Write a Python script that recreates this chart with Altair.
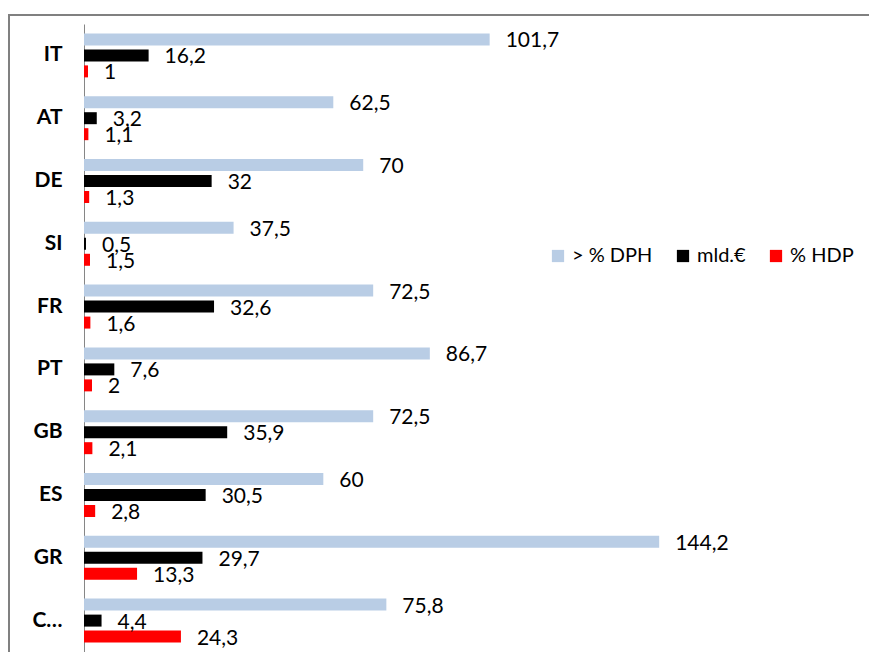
import altair as alt
import pandas as pd

categories = ["IT", "AT", "DE", "SI", "FR", "PT", "GB", "ES", "GR", "C…"]
dph = [101.7, 62.5, 70, 37.5, 72.5, 86.7, 72.5, 60, 144.2, 75.8]
mld = [16.2, 3.2, 32, 0.5, 32.6, 7.6, 35.9, 30.5, 29.7, 4.4]
hdp = [1, 1.1, 1.3, 1.5, 1.6, 2, 2.1, 2.8, 13.3, 24.3]
series_names = ["> % DPH", "mld.€", "% HDP"]
series_colors = ["#B9CDE5", "#000000", "#FF0000"]

rows = []
for name, vals in zip(series_names, [dph, mld, hdp]):
    for c, v in zip(categories, vals):
        rows.append({"cat": c, "series": name, "value": v,
                     "label": f"{v:g}".replace(".", ",")})
df = pd.DataFrame(rows)

W, H = 785, 628
XMAX = 196.8
FONT = "Lato"

base = alt.Chart(df).encode(
    y=alt.Y("cat:N", sort=categories,
            scale=alt.Scale(paddingInner=0.3, paddingOuter=0.15),
            axis=alt.Axis(title=None, ticks=False, labelFontWeight="bold",
                          labelFontSize=21, labelColor="black", labelFont=FONT,
                          labelPadding=22, domainColor="#868686", domainWidth=1,
                          grid=False)),
    yOffset=alt.YOffset("series:N", sort=series_names,
                        scale=alt.Scale(paddingInner=0.25, paddingOuter=0)),
)

bars = base.mark_bar().encode(
    x=alt.X("value:Q", scale=alt.Scale(domain=[0, XMAX], nice=False, zero=True), axis=None),
    color=alt.Color("series:N",
                    scale=alt.Scale(domain=series_names, range=series_colors),
                    legend=alt.Legend(orient="none", legendX=464, legendY=222,
                                      direction="horizontal", title=None,
                                      symbolType="square", symbolSize=150,
                                      symbolStrokeWidth=0,
                                      labelFontSize=20, labelFont=FONT,
                                      labelColor="black", columnPadding=20,
                                      labelOffset=4)),
)

texts = base.mark_text(align="left", baseline="middle", dx=16, dy=2, fontSize=21,
                       font=FONT, color="black").encode(
    x=alt.X("value:Q", scale=alt.Scale(domain=[0, XMAX], nice=False, zero=True), axis=None),
    text="label:N",
)

frame_df = pd.DataFrame({"k": [0]})
frame_left = alt.Chart(frame_df).mark_rule(color="#808080", strokeWidth=2).encode(
    x=alt.value(-75), y=alt.value(-10), y2=alt.value(H + 30))
frame_top = alt.Chart(frame_df).mark_rule(color="#808080", strokeWidth=2).encode(
    x=alt.value(-76), x2=alt.value(W + 30), y=alt.value(-9))

chart = alt.layer(bars, texts, frame_left, frame_top).properties(
    width=W, height=H,
    autosize=alt.AutoSizeParams(type="none"),
    padding={"left": 76, "top": 16, "right": 0, "bottom": 0},
    background="white",
).configure_view(stroke=None)

chart.save("out.html", embed_options={"renderer": "svg", "actions": False})
